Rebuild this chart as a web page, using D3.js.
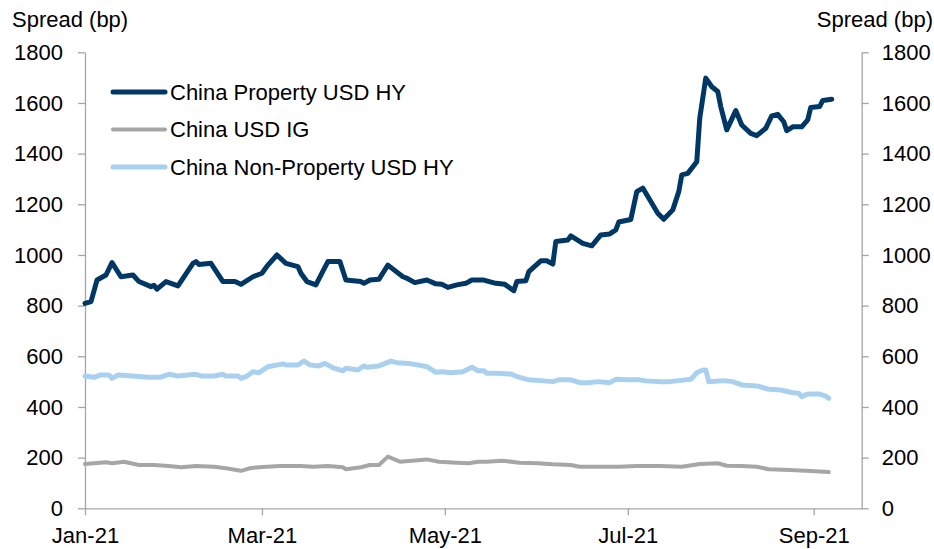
<!DOCTYPE html>
<html>
<head>
<meta charset="utf-8">
<script src="https://cdn.jsdelivr.net/npm/d3@7"></script>
<style>
  body { margin: 0; background: #fff; }
  svg text { font-family: "Liberation Sans", Arial, sans-serif; fill: #000; }
  .axis path, .axis line { stroke: #a6a6a6; stroke-width: 1.3; }
  .axis text { font-size: 22px; }
</style>
</head>
<body>
<div id="chart"></div>
<script>
// series names and colours (legend order)
const seriesNames = ['China Property USD HY', 'China USD IG', 'China Non-Property USD HY'];

// China Property USD HY
const propDates = ['2021-01-01','2021-01-03','2021-01-05','2021-01-08','2021-01-10','2021-01-13','2021-01-17','2021-01-19','2021-01-23','2021-01-24','2021-01-25','2021-01-28',
  '2021-02-01','2021-02-06','2021-02-07','2021-02-08','2021-02-12','2021-02-16','2021-02-20','2021-02-22','2021-02-26',
  '2021-03-01','2021-03-03','2021-03-06','2021-03-09','2021-03-13','2021-03-14','2021-03-16','2021-03-19','2021-03-21','2021-03-23','2021-03-27','2021-03-29',
  '2021-04-03','2021-04-04','2021-04-06','2021-04-09','2021-04-12','2021-04-17','2021-04-18','2021-04-21','2021-04-25','2021-04-28','2021-04-30',
  '2021-05-02','2021-05-05','2021-05-08','2021-05-10','2021-05-14','2021-05-18','2021-05-21','2021-05-24','2021-05-25','2021-05-28','2021-05-29',
  '2021-06-02','2021-06-04','2021-06-06','2021-06-07','2021-06-11','2021-06-12','2021-06-16','2021-06-19','2021-06-22','2021-06-25','2021-06-27','2021-06-28',
  '2021-07-02','2021-07-04','2021-07-06','2021-07-11','2021-07-13','2021-07-16','2021-07-18','2021-07-19','2021-07-21','2021-07-24','2021-07-25','2021-07-27','2021-07-29','2021-07-31',
  '2021-08-01','2021-08-03','2021-08-06','2021-08-08','2021-08-11','2021-08-13','2021-08-16','2021-08-18','2021-08-20','2021-08-22','2021-08-23','2021-08-25','2021-08-28','2021-08-30','2021-08-31',
  '2021-09-03','2021-09-04','2021-09-07'];
const propValues = [809,816,901,921,970,914,921,895,875,880,865,895,
  878,967,974,962,967,895,895,884,914,
  928,960,1000,967,954,928,895,882,928,974,974,901,
  895,888,901,904,960,914,910,891,901,886,884,
  872,882,888,901,901,888,884,859,895,898,934,
  977,977,964,1053,1059,1075,1046,1036,1079,1083,1099,1130,
  1140,1250,1264,1165,1141,1178,1250,1316,1322,1368,1540,1698,1664,1645,
  1586,1494,1570,1513,1480,1471,1500,1549,1555,1526,1491,1506,1506,1533,1582,
  1586,1610,1615];

// China USD IG
const igDates = ['2021-01-01','2021-01-04','2021-01-08','2021-01-10','2021-01-14','2021-01-19','2021-01-24','2021-01-29',
  '2021-02-02','2021-02-07','2021-02-13','2021-02-17','2021-02-22','2021-02-25','2021-02-28',
  '2021-03-07','2021-03-14','2021-03-18','2021-03-23','2021-03-28','2021-03-29',
  '2021-04-03','2021-04-06','2021-04-09','2021-04-12','2021-04-16','2021-04-20','2021-04-25','2021-04-29',
  '2021-05-05','2021-05-09','2021-05-12','2021-05-15','2021-05-20','2021-05-26',
  '2021-06-01','2021-06-06','2021-06-12','2021-06-15','2021-06-23','2021-06-28',
  '2021-07-04','2021-07-12','2021-07-19','2021-07-25','2021-07-31',
  '2021-08-03','2021-08-08','2021-08-13','2021-08-17','2021-08-24','2021-08-31','2021-09-06'];
const igValues = [175,178,182,178,184,171,171,167,
  162,167,164,158,148,158,162,
  167,167,164,167,162,154,
  162,171,171,204,184,188,193,184,
  180,178,184,184,188,180,
  178,174,171,164,164,164,
  167,167,164,175,178,
  168,167,164,154,151,147,143];

// China Non-Property USD HY
const nonPropDates = ['2021-01-01','2021-01-04','2021-01-06','2021-01-09','2021-01-10','2021-01-12','2021-01-17','2021-01-22','2021-01-26','2021-01-29',
  '2021-02-01','2021-02-07','2021-02-09','2021-02-13','2021-02-16','2021-02-17','2021-02-21','2021-02-22','2021-02-24','2021-02-26','2021-02-28',
  '2021-03-03','2021-03-08','2021-03-09','2021-03-13','2021-03-15','2021-03-17','2021-03-20','2021-03-22','2021-03-25','2021-03-28','2021-03-29',
  '2021-04-02','2021-04-04','2021-04-05','2021-04-09','2021-04-13','2021-04-15','2021-04-19','2021-04-22','2021-04-25','2021-04-28','2021-04-30',
  '2021-05-03','2021-05-07','2021-05-10','2021-05-12','2021-05-14','2021-05-15','2021-05-18','2021-05-23','2021-05-25','2021-05-29',
  '2021-06-02','2021-06-06','2021-06-08','2021-06-12','2021-06-15','2021-06-18','2021-06-21','2021-06-25','2021-06-27',
  '2021-07-01','2021-07-05','2021-07-07','2021-07-12','2021-07-15','2021-07-18','2021-07-22','2021-07-24','2021-07-26','2021-07-27','2021-07-28',
  '2021-08-02','2021-08-05','2021-08-08','2021-08-13','2021-08-17','2021-08-21','2021-08-25','2021-08-27','2021-08-28','2021-08-30',
  '2021-09-03','2021-09-05','2021-09-06'];
const nonPropValues = [522,517,526,526,513,526,522,517,517,529,
  522,529,522,522,529,522,522,513,522,539,535,
  559,570,566,566,581,566,562,572,553,543,553,
  546,562,557,562,581,575,572,566,559,537,539,
  535,539,557,543,543,533,533,530,520,507,
  504,500,507,507,496,496,500,496,509,
  507,507,503,500,500,504,509,535,546,546,500,
  504,500,487,483,470,467,456,454,441,451,
  451,443,434];

const yTicks = [0,200,400,600,800,1000,1200,1400,1600,1800];
const xTicks = ['2021-01-01','2021-03-01','2021-05-01','2021-07-01','2021-09-01'];

const colors = ['#003764', '#a6a6a6', '#a9d1ef'];
const widths = [5, 4, 5];

const width = 934, height = 549;
const parse = d3.timeParse('%Y-%m-%d');

const svg = d3.select('#chart').append('svg')
  .attr('width', width)
  .attr('height', height);

const x = d3.scaleTime()
  .domain([parse('2021-01-01'), parse('2021-09-17')])
  .range([85, 861.7]);
const y = d3.scaleLinear()
  .domain([0, 1800])
  .range([508.3, 52.3]);

// axes
svg.append('g')
  .attr('class', 'axis')
  .attr('transform', 'translate(85,0)')
  .call(d3.axisLeft(y).tickValues(yTicks).tickSize(7).tickSizeOuter(0).tickPadding(15).tickFormat(d3.format('d')));

svg.append('g')
  .attr('class', 'axis')
  .attr('transform', 'translate(861.7,0)')
  .call(d3.axisRight(y).tickValues(yTicks).tickSize(7).tickSizeOuter(0).tickPadding(13).tickFormat(d3.format('d')));

svg.append('g')
  .attr('class', 'axis')
  .attr('transform', 'translate(0,508.3)')
  .call(d3.axisBottom(x).tickValues(xTicks.map(parse)).tickSize(7).tickSizeOuter(0).tickPadding(12).tickFormat(d3.timeFormat('%b-%y')));

svg.selectAll('.axis .domain').attr('fill', 'none');

// axis titles
svg.append('text')
  .attr('x', 12).attr('y', 27)
  .attr('font-size', 22)
  .text('Spread (bp)');
svg.append('text')
  .attr('x', 933).attr('y', 27)
  .attr('font-size', 22)
  .attr('text-anchor', 'end')
  .text('Spread (bp)');

// lines
const series = [
  { name: seriesNames[0], dates: propDates, values: propValues },
  { name: seriesNames[1], dates: igDates, values: igValues },
  { name: seriesNames[2], dates: nonPropDates, values: nonPropValues }
].map((s, i) => ({
  name: s.name,
  color: colors[i],
  width: widths[i],
  points: s.dates.map((d, j) => ({ date: parse(d), value: s.values[j] }))
}));

const line = d3.line()
  .x(d => x(d.date))
  .y(d => y(d.value));

const drawOrder = [1, 2, 0];
svg.append('g')
  .selectAll('path')
  .data(drawOrder.map(i => series[i]))
  .join('path')
    .attr('fill', 'none')
    .attr('stroke', d => d.color)
    .attr('stroke-width', d => d.width)
    .attr('stroke-linejoin', 'round')
    .attr('stroke-linecap', 'round')
    .attr('d', d => line(d.points));

// legend
const legend = svg.append('g')
  .attr('transform', 'translate(113,92)');
const items = legend.selectAll('g')
  .data(series)
  .join('g')
    .attr('transform', (d, i) => `translate(0,${i * 37.5})`);
items.append('line')
  .attr('x1', 0).attr('x2', 52)
  .attr('stroke', d => d.color)
  .attr('stroke-width', d => d.width)
  .attr('stroke-linecap', 'round');
items.append('text')
  .attr('x', 57)
  .attr('dy', '0.35em')
  .attr('font-size', 22)
  .text(d => d.name);
</script>
</body>
</html>
